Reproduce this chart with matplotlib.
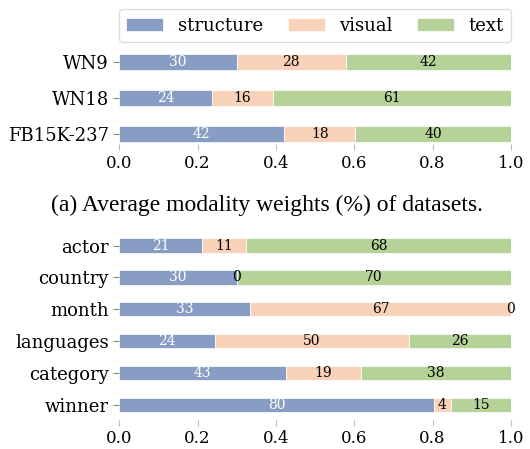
import numpy as np
import matplotlib
matplotlib.use('Agg')
import matplotlib.pyplot as plt

# modality weights (fractions)
modalities = ['structure', 'visual', 'text']
colors = ['#879dc4', '#f8d3b9', '#b5d398']
label_colors = ['white', 'black', 'black']

datasets = ['WN9', 'WN18', 'FB15K-237']
ds_structure = [0.300, 0.236, 0.421]
ds_visual = [0.278, 0.157, 0.182]
ds_text = [0.422, 0.607, 0.397]

relations = ['actor', 'country', 'month', 'languages', 'category', 'winner']
rel_structure = [0.212, 0.300, 0.334, 0.244, 0.426, 0.803]
rel_visual = [0.112, 0.000, 0.666, 0.496, 0.190, 0.043]
rel_text = [0.676, 0.700, 0.000, 0.260, 0.384, 0.154]

caption = '(a) Average modality weights (%) of datasets.'

plt.rcParams['font.family'] = 'DejaVu Serif'


def stacked_bars(ax, names, parts):
    y = np.arange(len(names))
    left = np.zeros(len(names))
    for vals, col, lcol, lab in zip(parts, colors, label_colors, modalities):
        vals = np.array(vals)
        ax.barh(y, vals, left=left, height=0.45, color=col,
                edgecolor='white', linewidth=0.5, label=lab)
        for yi, l, v in zip(y, left, vals):
            ax.text(l + v / 2, yi, f'{round(v * 100):d}', ha='center',
                    va='center', fontsize=10, color=lcol)
        left = left + vals
    ax.set_yticks(y)
    ax.set_yticklabels(names, fontsize=13)
    ax.set_xlim(0, 1)
    ax.tick_params(axis='x', labelsize=12, colors='#bbbbbb', labelcolor='black',
                   length=4, width=0.8)
    ax.tick_params(axis='y', colors='#888888', labelcolor='black',
                   length=4, width=0.8)
    for s in ax.spines.values():
        s.set_visible(False)


fig = plt.figure(figsize=(5.3, 4.49), dpi=100)

ax1 = fig.add_axes([0.225, 0.679, 0.739, 0.221])
stacked_bars(ax1, datasets, [ds_structure, ds_visual, ds_text])
ax1.set_ylim(2.28, -0.47)
ax1.legend(loc='lower left', bbox_to_anchor=(0, 1.03, 1.0, 0.2), mode='expand',
           ncol=3, fontsize=13, handlelength=2.05,
           borderaxespad=0.0, framealpha=1, edgecolor='#dddddd')

fig.text(0.503, 0.543, caption, ha='center', va='center',
         fontsize=17, family='Liberation Serif')

ax2 = fig.add_axes([0.225, 0.0646, 0.739, 0.4234])
stacked_bars(ax2, relations, [rel_structure, rel_visual, rel_text])
ax2.set_ylim(5.47, -0.49)

fig.savefig('out.png', dpi=100)
